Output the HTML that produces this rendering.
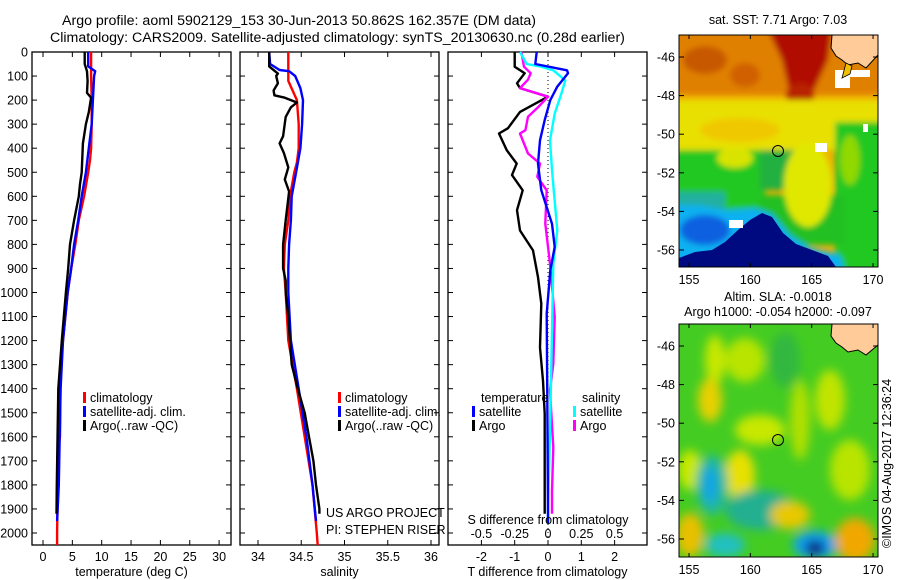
<!DOCTYPE html>
<html><head><meta charset="utf-8">
<style>
html,body{margin:0;padding:0;background:#fff;}
svg{display:block;font-family:"Liberation Sans",sans-serif;}
text{font-size:12.5px;fill:#000;}
</style></head>
<body>
<svg id="chart" width="900" height="580" viewBox="0 0 900 580" xmlns="http://www.w3.org/2000/svg">
<defs>
  <clipPath id="m1c"><rect x="679" y="35" width="199" height="232"/></clipPath>
  <clipPath id="m2c"><rect x="679" y="324" width="199" height="233"/></clipPath>
  <filter id="bl" x="-20%" y="-20%" width="140%" height="140%"><feGaussianBlur stdDeviation="3"/></filter>
  <filter id="bl2" x="-50%" y="-50%" width="200%" height="200%"><feGaussianBlur stdDeviation="5"/></filter>
</defs>
<text x="62" y="25" style="font-size:14.2px">Argo profile: aoml 5902129_153 30-Jun-2013 50.862S 162.357E (DM data)</text>
<text x="50" y="42" style="font-size:14.2px">Climatology: CARS2009. Satellite-adjusted climatology: synTS_20130630.nc (0.28d earlier)</text>
<g id="panels"></g>

<!-- Map 1: SST -->
<g>
<text x="778" y="24" text-anchor="middle">sat. SST: 7.71 Argo: 7.03</text>
<g clip-path="url(#m1c)">
  <rect x="679" y="35" width="199" height="232" fill="#f0b000"/>
  <g filter="url(#bl)">
    <rect x="670" y="30" width="220" height="65" fill="#e08000"/>
    <ellipse cx="705" cy="60" rx="22" ry="14" fill="#c85800"/>
    <ellipse cx="745" cy="75" rx="15" ry="12" fill="#d06000"/>
    <polygon points="768,30 832,30 828,60 815,88 805,105 790,95 782,60" fill="#b01000"/>
    <ellipse cx="800" cy="95" rx="14" ry="12" fill="#b82000"/>
    <rect x="670" y="100" width="220" height="50" fill="#e8e000"/>
    <ellipse cx="740" cy="130" rx="40" ry="12" fill="#f0c800"/>
    <rect x="670" y="150" width="95" height="60" fill="#22c822"/>
    <rect x="760" y="150" width="40" height="40" fill="#20b040"/>
    <rect x="835" y="122" width="50" height="150" fill="#22c822"/>
    <rect x="760" y="195" width="85" height="50" fill="#22c022"/>
    <ellipse cx="808" cy="185" rx="24" ry="42" fill="#e0e800"/>
    <ellipse cx="735" cy="158" rx="18" ry="10" fill="#d8e400"/>
    <ellipse cx="850" cy="160" rx="10" ry="25" fill="#90d800"/>
    <rect x="670" y="192" width="55" height="22" fill="#20b0a0"/>
    <polygon points="670,205 700,205 725,210 755,208 772,214 790,235 810,248 840,255 845,270 670,270" fill="#10b0f0"/>
    <ellipse cx="705" cy="230" rx="25" ry="15" fill="#1060e0"/>
  </g>
  <polygon points="679,258 695,252 712,250 725,242 738,230 750,220 762,213 772,217 783,233 796,244 812,250 828,256 836,267 679,267" fill="#000a80"/>
  <rect x="729" y="220" width="14" height="8" fill="#fff"/>
  <rect x="815" y="143" width="12" height="9" fill="#fff"/>
  <rect x="863" y="124" width="5" height="8" fill="#fff"/>
  <rect x="835" y="70" width="15" height="18" fill="#fff"/>
  <rect x="850" y="70" width="20" height="7" fill="#fff"/>
  <polygon points="832,35 878,35 878,55 866,68 858,63 848,65 842,60 836,56 831,48" fill="#ffcc99" stroke="#000" stroke-width="1"/>
  <polygon points="846,63 852,66 850,74 842,78" fill="#f0c000" stroke="#000" stroke-width="0.8"/>
  <circle cx="778" cy="151" r="5.5" fill="none" stroke="#000" stroke-width="1"/>
</g>
<rect x="679" y="35" width="199" height="232" fill="none" stroke="#000"/>
<g id="m1axes"></g>
</g>

<!-- Map 2: SLA -->
<g>
<text x="778" y="301" text-anchor="middle">Altim. SLA: -0.0018</text>
<text x="778" y="316" text-anchor="middle">Argo h1000: -0.054 h2000: -0.097</text>
<g clip-path="url(#m2c)">
  <rect x="679" y="324" width="199" height="233" fill="#44cc22"/>
  <g filter="url(#bl2)">
    <ellipse cx="715" cy="360" rx="10" ry="25" fill="#c8e800"/>
    <ellipse cx="745" cy="360" rx="20" ry="22" fill="#b8e400"/>
    <ellipse cx="710" cy="400" rx="12" ry="22" fill="#e8d000"/>
    <ellipse cx="785" cy="360" rx="15" ry="28" fill="#30b840"/>
    <ellipse cx="760" cy="430" rx="25" ry="15" fill="#c8e800"/>
    <ellipse cx="800" cy="420" rx="10" ry="40" fill="#b0e000"/>
    <ellipse cx="740" cy="475" rx="15" ry="25" fill="#e8e000"/>
    <ellipse cx="690" cy="470" rx="12" ry="20" fill="#c8e800"/>
    <ellipse cx="712" cy="485" rx="16" ry="30" fill="#20b8a0"/>
    <ellipse cx="710" cy="485" rx="6" ry="18" fill="#10a0f0"/>
    <ellipse cx="760" cy="510" rx="35" ry="20" fill="#20b090"/>
    <ellipse cx="790" cy="515" rx="20" ry="14" fill="#e8c800"/>
    <ellipse cx="690" cy="535" rx="14" ry="22" fill="#e8c000"/>
    <ellipse cx="725" cy="545" rx="20" ry="12" fill="#20c0c0"/>
    <ellipse cx="815" cy="545" rx="22" ry="14" fill="#10a0f0"/>
    <ellipse cx="815" cy="548" rx="10" ry="8" fill="#102080"/>
    <ellipse cx="855" cy="540" rx="20" ry="22" fill="#f0a800"/>
    <ellipse cx="850" cy="470" rx="20" ry="30" fill="#b8e400"/>
    <ellipse cx="830" cy="400" rx="15" ry="30" fill="#c0e400"/>
  </g>
  <polygon points="832,324 878,324 878,345 866,355 858,350 848,352 842,347 836,343 831,336" fill="#ffcc99" stroke="#000" stroke-width="1"/>
  <circle cx="778" cy="440" r="5.5" fill="none" stroke="#000" stroke-width="1"/>
</g>
<rect x="679" y="324" width="199" height="233" fill="none" stroke="#000"/>
<g id="m2axes"></g>
<text x="0" y="0" transform="translate(891,548) rotate(-90)">©IMOS 04-Aug-2017 12:36:24</text>
</g>
</svg>
<script>
// ---- data ----
const depthTicks = [0,100,200,300,400,500,600,700,800,900,1000,1100,1200,1300,1400,1500,1600,1700,1800,1900,2000];
const tempTicks = [0,5,10,15,20,25,30];
const salTicks = [34,34.5,35,35.5,36];
const salTickLabels = ["34","34.5","35","35.5","36"];
const tdiffTicks = [-2,-1,0,1,2];
const sdiffTicks = [-0.5,-0.25,0,0.25,0.5];
const sdiffTickLabels = ["-0.5","-0.25","0","0.25","0.5"];

const tClimD = [0,100,200,300,400,450,500,600,700,800,900,1000,1200,1300,1600,1650,2000,2050];
const tClimV = [8.2,8.2,8.3,8.3,8.2,8.0,7.7,7.0,6.1,5.5,4.8,4.2,3.4,3.0,2.9,2.6,2.4,2.4];
const tSatD = [0,60,80,100,200,300,400,500,600,700,800,900,1000,1200,1400,1800,1950];
const tSatV = [7.7,7.7,8.9,8.7,8.5,8.3,7.8,7.3,6.6,6.0,5.3,4.8,4.2,3.4,3.0,2.7,2.4];
const tArgoD = [0,50,80,120,170,190,250,300,380,500,550,600,700,800,900,1000,1200,1400,1800,1920];
const tArgoV = [7.1,7.1,7.5,7.6,7.5,8.2,7.8,7.3,6.8,6.6,6.3,6.1,5.3,4.6,4.3,3.9,3.2,2.6,2.35,2.3];

const sClimD = [0,120,160,200,300,400,460,500,600,700,800,900,1000,1200,1400,1600,1800,2000,2050];
const sClimV = [34.35,34.35,34.40,34.45,34.47,34.47,34.45,34.42,34.37,34.35,34.31,34.30,34.32,34.35,34.45,34.54,34.63,34.68,34.69];
const sSatD = [0,50,75,80,100,150,200,300,400,500,600,700,800,900,1000,1200,1400,1600,1800,1950];
const sSatV = [34.13,34.14,34.25,34.36,34.43,34.49,34.52,34.51,34.49,34.44,34.39,34.38,34.36,34.35,34.35,34.38,34.47,34.56,34.63,34.67];
const sArgoD = [0,60,90,100,130,160,180,190,210,230,270,350,380,420,480,530,580,700,800,900,950,1000,1100,1300,1400,1500,1600,1700,1800,1900,1920];
const sArgoV = [34.13,34.13,34.23,34.21,34.23,34.18,34.19,34.31,34.45,34.38,34.32,34.29,34.25,34.30,34.35,34.31,34.36,34.32,34.29,34.29,34.32,34.32,34.35,34.39,34.46,34.54,34.59,34.64,34.67,34.71,34.71];

const dTSatD = [0,50,76,88,144,200,283,367,464,575,714,811,908,1088,1436,1908,1960];
const dTSatV = [-0.34,-0.38,0.57,0.6,0.28,0.07,-0.1,-0.24,-0.3,-0.2,0.12,0.2,0.07,-0.04,-0.02,0.0,0.0];
const dTArgoD = [0,61,88,130,150,186,249,317,339,408,464,512,575,658,742,825,936,1046,1229,1367,1504,1796,1920];
const dTArgoV = [-1.0,-1.0,-0.7,-0.93,-0.84,0.0,-0.84,-1.2,-1.47,-1.24,-0.94,-1.08,-0.76,-0.93,-0.84,-0.45,-0.3,-0.2,-0.24,-0.15,-0.1,-0.1,-0.1];
const dSSatD = [0,50,60,76,118,174,256,367,492,742,880,1160,1575,1908,1963];
const dSSatV = [-0.21,-0.16,-0.06,0.04,0.13,0.10,0.05,0.015,0.03,0.07,0.04,0.03,0.015,0.0,0.0];
const dSArgoD = [0,61,88,115,150,186,227,269,325,339,422,464,519,575,714,880,1102,1297,1408,1644,1825,1920];
const dSArgoV = [-0.2,-0.18,-0.13,-0.15,-0.21,0.0,-0.07,-0.15,-0.17,-0.21,-0.15,-0.06,-0.08,-0.01,-0.02,0.015,0.05,0.04,0.015,0.04,0.03,0.03];

const latTicks = [-46,-48,-50,-52,-54,-56];
const lonTicks = [155,160,165,170];

// ---- scales ----
const NS = "http://www.w3.org/2000/svg";
const Y0 = 52, Y1 = 545;
function yD(d){ return 52 + d*0.2405; }
function xT(t){ return 43 + t*5.87; }
function xS(s){ return 258 + (s-34)*86.5; }
function xDT(t){ return 548 + t*33.3; }
function xDS(s){ return 548 + s*133.2; }
function mkEl(tag, attrs, parent){
  const e = document.createElementNS(NS, tag);
  for (const k in attrs) e.setAttribute(k, attrs[k]);
  parent.appendChild(e);
  return e;
}
const root = document.getElementById('panels');

function panel(name, x0, x1, ticksX, tickFn, labels, xlabel, showDepth){
  const g = mkEl('g', {}, root);
  
  
  const fr = mkEl('rect', {x:x0, y:Y0, width:x1-x0, height:Y1-Y0, fill:'none', stroke:'#000', 'stroke-width':1.3}, g);
  
  
  depthTicks.forEach(d => {
    const y = yD(d);
    mkEl('line', {x1:x0, x2:x0+5, y1:y, y2:y, stroke:'#000'}, g);
    mkEl('line', {x1:x1-5, x2:x1, y1:y, y2:y, stroke:'#000'}, g);
    if (showDepth){
      const t = mkEl('text', {x:x0-4, y:y+4.5, 'text-anchor':'end'}, g);
      t.textContent = String(d);
      
      
    }
  });
  ticksX.forEach((v,i) => {
    const x = tickFn(v);
    mkEl('line', {x1:x, x2:x, y1:Y0, y2:Y0+5, stroke:'#000'}, g);
    mkEl('line', {x1:x, x2:x, y1:Y1-5, y2:Y1, stroke:'#000'}, g);
    const t = mkEl('text', {x:x, y:561, 'text-anchor':'middle'}, g);
    t.textContent = labels[i];
    
    
  });
  const xl = mkEl('text', {x:(x0+x1)/2, y:576, 'text-anchor':'middle'}, g);
  xl.textContent = xlabel;
  
  
  return g;
}
function stepLine(g, D, V, xf, color, name){
  let p = '';
  for (let i=0;i<D.length;i++){
    const x = xf(V[i]).toFixed(1), y = yD(D[i]).toFixed(1);
    if (i===0) p += 'M'+x+' '+y;
    else { p += ' L'+x+' '+y; }
  }
  const el = mkEl('path', {d:p, fill:'none', stroke:color, 'stroke-width':2.4, 'stroke-linejoin':'round'}, g);
  
  
}
function legend(g, x, y, color, label, name){
  mkEl('rect', {x:x, y:y-9, width:3, height:11, fill:color}, g);
  const t = mkEl('text', {x:x+7, y:y+1}, g);
  t.textContent = label;
  
  
}

// Panel 1 temperature
const p1 = panel('temperature-panel', 32, 231, tempTicks, xT, tempTicks.map(String), 'temperature (deg C)', true);
stepLine(p1, tClimD, tClimV, xT, '#f00', 'temp-climatology-line');
stepLine(p1, tSatD, tSatV, xT, '#00f', 'temp-satellite-line');
stepLine(p1, tArgoD, tArgoV, xT, '#000', 'temp-argo-line');
legend(p1, 83, 401, '#f00', 'climatology', 'legend-climatology');
legend(p1, 83, 415, '#00f', 'satellite-adj. clim.', 'legend-satellite');
legend(p1, 83, 429, '#000', 'Argo(..raw -QC)', 'legend-argo');

// Panel 2 salinity
const p2 = panel('salinity-panel', 240, 439, salTicks, xS, salTickLabels, 'salinity', false);
stepLine(p2, sClimD, sClimV, xS, '#f00', 'sal-climatology-line');
stepLine(p2, sSatD, sSatV, xS, '#00f', 'sal-satellite-line');
stepLine(p2, sArgoD, sArgoV, xS, '#000', 'sal-argo-line');
legend(p2, 338, 401, '#f00', 'climatology', 'legend-climatology');
legend(p2, 338, 415, '#00f', 'satellite-adj. clim.', 'legend-satellite');
legend(p2, 338, 429, '#000', 'Argo(..raw -QC)', 'legend-argo');
[['US ARGO PROJECT',517],['PI: STEPHEN RISER',534]].forEach(a=>{
  const t = mkEl('text', {x:326, y:a[1]}, p2);
  t.textContent = a[0];
  
  
});

// Panel 3 differences
const p3 = panel('difference-panel', 448, 647, tdiffTicks, xDT, tdiffTicks.map(String), 'T difference from climatology', false);
mkEl('line', {x1:548, x2:548, y1:Y0, y2:Y1, stroke:'#000', 'stroke-dasharray':'1,3'}, p3);
stepLine(p3, dTArgoD, dTArgoV, xDT, '#000', 'tdiff-argo-line');
stepLine(p3, dSArgoD, dSArgoV, xDS, '#f0f', 'sdiff-argo-line');
stepLine(p3, dSSatD, dSSatV, xDS, '#0ff', 'sdiff-satellite-line');
stepLine(p3, dTSatD, dTSatV, xDT, '#00f', 'tdiff-satellite-line');
const tl = mkEl('text', {x:481, y:402}, p3); tl.textContent='temperature';


const sl = mkEl('text', {x:582, y:402}, p3); sl.textContent='salinity';


legend(p3, 472, 415, '#00f', 'satellite', 'legend-t-satellite');
legend(p3, 472, 429, '#000', 'Argo', 'legend-t-argo');
legend(p3, 573, 415, '#0ff', 'satellite', 'legend-s-satellite');
legend(p3, 573, 429, '#f0f', 'Argo', 'legend-s-argo');
const sdt = mkEl('text', {x:548, y:524, 'text-anchor':'middle'}, p3); sdt.textContent='S difference from climatology';


sdiffTicks.forEach((v,i)=>{
  const t = mkEl('text', {x:xDS(v), y:538, 'text-anchor':'middle'}, p3);
  t.textContent = sdiffTickLabels[i];
  
  
});

// Map axes
function mapAxes(id, top, bottom){
  const g = document.getElementById(id);
  const yLat = lat => top + 22 + (-46 - lat) * 19.3;
  const xLon = lon => 689 + (lon-155) * 12.27;
  latTicks.forEach(l=>{
    const y = yLat(l);
    mkEl('line', {x1:679, x2:684, y1:y, y2:y, stroke:'#000'}, g);
    mkEl('line', {x1:873, x2:878, y1:y, y2:y, stroke:'#000'}, g);
    const t = mkEl('text', {x:675, y:y+4.5, 'text-anchor':'end'}, g);
    t.textContent = String(l);
    
    
  });
  lonTicks.forEach(l=>{
    const x = xLon(l);
    mkEl('line', {x1:x, x2:x, y1:top, y2:top+4, stroke:'#000'}, g);
    mkEl('line', {x1:x, x2:x, y1:bottom-4, y2:bottom, stroke:'#000'}, g);
    const t = mkEl('text', {x:x, y:bottom+17, 'text-anchor':'middle'}, g);
    t.textContent = String(l);
    
    
  });
}
mapAxes('m1axes', 35, 267);
mapAxes('m2axes', 324, 557);
</script>
</body></html>
